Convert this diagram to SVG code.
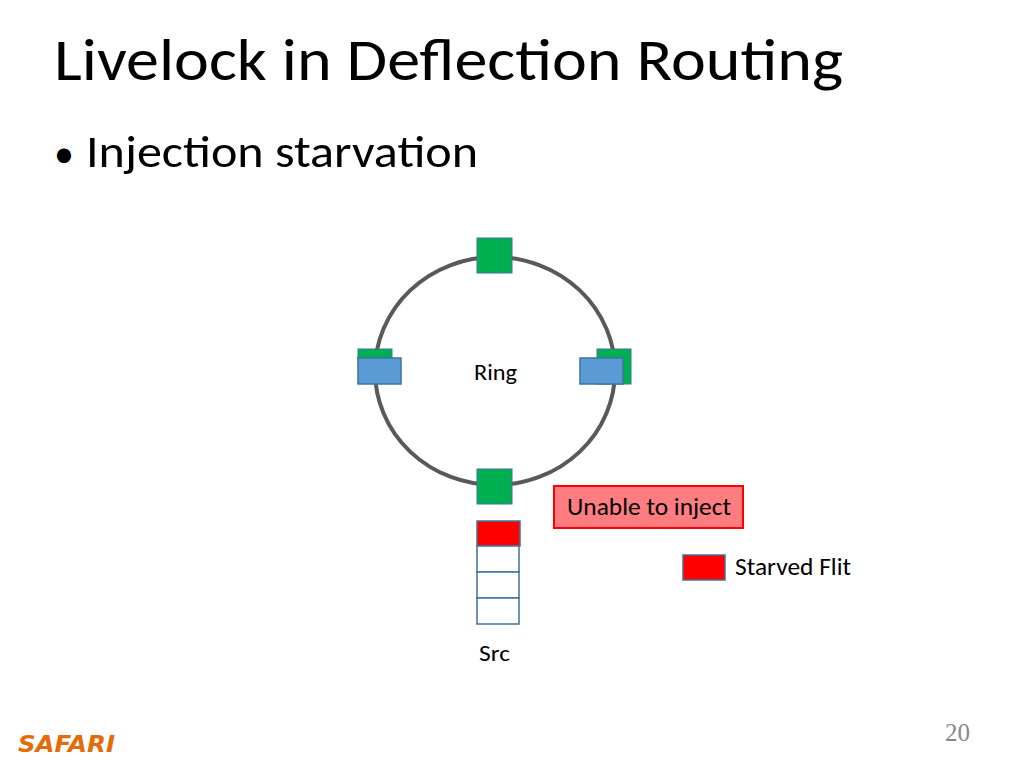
<svg xmlns="http://www.w3.org/2000/svg" width="1024" height="768" viewBox="0 0 1024 768">
<style>
.t{font-family:Calibri,Carlito,"Liberation Sans",sans-serif;fill:#000}
.g{fill:#00b050;stroke:#41719c;stroke-width:1}
.b{fill:#5b9bd5;stroke:#41719c;stroke-width:1.5}
.r{fill:#ff0000;stroke:#41719c;stroke-width:1.5}
.e{fill:#fff;stroke:#41719c;stroke-width:1.5}
</style>
<rect width="1024" height="768" fill="#fff"/>
<text class="t" x="54" y="80" font-size="60" textLength="789" lengthAdjust="spacingAndGlyphs">Livelock in Deflection Routing</text>
<text class="t" x="54" y="167" font-size="40">•</text>
<text class="t" x="86" y="167" font-size="46" textLength="392" lengthAdjust="spacingAndGlyphs">Injection starvation</text>
<g id="ring"><ellipse cx="495" cy="371" rx="120" ry="114" fill="none" stroke="#595959" stroke-width="4"/>
<text class="t" x="474" y="380" font-size="22" textLength="43" lengthAdjust="spacingAndGlyphs">Ring</text></g>
<g id="node-top"><rect class="g" x="477" y="238" width="35" height="35"/></g>
<g id="node-bottom"><rect class="g" x="477" y="469" width="35" height="35"/></g>
<g id="node-left"><rect class="g" x="358" y="349" width="34" height="12"/><rect class="b" x="358" y="358" width="43" height="26"/></g>
<g id="node-right"><rect class="g" x="597" y="349" width="34" height="35"/><rect class="b" x="580" y="358" width="43" height="26"/></g>
<g id="src"><rect class="r" x="477" y="521" width="43" height="25"/><rect class="e" x="477" y="546" width="42" height="26"/><rect class="e" x="477" y="572" width="42" height="26"/><rect class="e" x="477" y="598" width="42" height="26"/>
<text class="t" x="479" y="661" font-size="22" textLength="31" lengthAdjust="spacingAndGlyphs">Src</text></g>
<g id="unable"><rect x="554" y="486" width="189" height="42" fill="#ff7c80" stroke="#ff0000" stroke-width="2"/>
<text class="t" x="567" y="515" font-size="24" textLength="164" lengthAdjust="spacingAndGlyphs">Unable to inject</text></g>
<g id="legend"><rect class="r" x="683" y="555" width="42" height="25"/>
<text class="t" x="735" y="575" font-size="24" textLength="116" lengthAdjust="spacingAndGlyphs">Starved Flit</text></g>
<text x="18" y="752" font-family="'DejaVu Sans',sans-serif" font-weight="bold" font-style="italic" font-size="23" fill="#e36c0a" textLength="97" lengthAdjust="spacingAndGlyphs">SAFARI</text>
<text x="970" y="741" font-family="'Liberation Serif',serif" font-size="25" fill="#888" text-anchor="end">20</text>
</svg>
